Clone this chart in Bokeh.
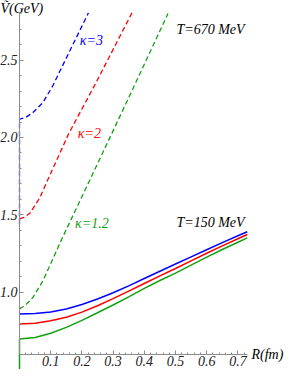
from bokeh.plotting import figure
from bokeh.models import LinearAxis, FixedTicker, NumeralTickFormatter, Range1d
from bokeh.embed import file_html
from bokeh.resources import INLINE
from bokeh.core.properties import value

# ---------------- data ----------------
# T = 150 MeV (solid)
r_solid = [0.0, 0.05, 0.1, 0.15, 0.2, 0.25, 0.3, 0.35, 0.4, 0.45, 0.5, 0.55, 0.6, 0.65, 0.7, 0.73]
v_k3_150 = [0.861, 0.864, 0.874, 0.894, 0.922, 0.958, 0.998, 1.043, 1.090, 1.137, 1.184, 1.230, 1.276, 1.322, 1.366, 1.392]
v_k2_150 = [0.797, 0.802, 0.817, 0.840, 0.873, 0.914, 0.960, 1.009, 1.058, 1.107, 1.155, 1.204, 1.253, 1.301, 1.347, 1.374]
r_k12_150 = [0.0] + r_solid
v_k12_150 = [0.50, 0.700, 0.710, 0.737, 0.775, 0.820, 0.869, 0.919, 0.972, 1.026, 1.077, 1.125, 1.177, 1.228, 1.277, 1.324, 1.352]

# T = 670 MeV (dashed)
r_k3_670 = [0.0, 0.0, 0.02, 0.043, 0.075, 0.106, 0.137, 0.168, 0.199, 0.221]
v_k3_670 = [1.44, 2.118, 2.13, 2.161, 2.225, 2.331, 2.459, 2.587, 2.714, 2.804]
r_k2_670 = [0.0, 0.015, 0.033, 0.064, 0.095, 0.126, 0.157, 0.245, 0.362]
v_k2_670 = [1.475, 1.485, 1.511, 1.607, 1.746, 1.884, 2.022, 2.353, 2.81]
r_k12_670 = [0.0, 0.02, 0.043, 0.075, 0.106, 0.137, 0.25, 0.36, 0.476]
v_k12_670 = [0.893, 0.92, 0.968, 1.075, 1.213, 1.351, 1.83, 2.30, 2.80]

x_ticks = [0.1, 0.2, 0.3, 0.4, 0.5, 0.6, 0.7]
x_minor = [round(0.02 * i, 2) for i in range(1, 37)]
y_ticks = [1.0, 1.5, 2.0, 2.5]
y_minor = [round(0.6 + 0.1 * i, 1) for i in range(0, 23)]

blue, red, green = "#0000ff", "#ff0000", "#12a012"
FONT = "Liberation Serif"
FS = "14px"

p = figure(width=284, height=369, output_backend="svg", toolbar_location=None,
           x_range=Range1d(-0.0609, 0.8494), y_range=Range1d(0.503, 2.884),
           x_axis_location=None, y_axis_location=None, min_border=0)
p.outline_line_color = None
p.grid.visible = False
p.background_fill_color = "white"


def style_axis(ax):
    ax.axis_line_color = "#8c8c8c"
    ax.axis_line_width = 1
    ax.major_tick_line_color = "#8c8c8c"
    ax.minor_tick_line_color = "#8c8c8c"
    ax.major_tick_in = 4
    ax.major_tick_out = 0
    ax.minor_tick_in = 2
    ax.minor_tick_out = 0
    ax.major_label_text_font = FONT
    ax.major_label_text_font_style = "italic"
    ax.major_label_text_font_size = FS
    ax.major_label_text_color = "#222222"
    ax.major_label_standoff = 2


xaxis = LinearAxis(fixed_location=0.6, bounds=(0, 0.73),
                   ticker=FixedTicker(ticks=x_ticks, minor_ticks=x_minor),
                   formatter=NumeralTickFormatter(format="0.0"))
style_axis(xaxis)
p.add_layout(xaxis, "below")

yaxis = LinearAxis(fixed_location=0, bounds=(0.6, 2.8),
                   ticker=FixedTicker(ticks=y_ticks, minor_ticks=y_minor),
                   formatter=NumeralTickFormatter(format="0.0"))
style_axis(yaxis)
p.add_layout(yaxis, "left")

# solid curves
p.line(r_solid, v_k3_150, line_color=blue, line_width=1.5)
p.line(r_solid, v_k2_150, line_color=red, line_width=1.5)
p.line(r_k12_150, v_k12_150, line_color=green, line_width=1.5)
# dashed curves
p.line(r_k3_670, v_k3_670, line_color=blue, line_width=1.3, line_dash="5 3")
p.line(r_k2_670, v_k2_670, line_color=red, line_width=1.3, line_dash="5 3")
p.line(r_k12_670, v_k12_670, line_color=green, line_width=1.3, line_dash="5 3")

# annotations
common = dict(text_font=value(FONT), text_font_style="italic", text_font_size=FS,
              text_align="left", text_baseline="middle")
p.text(x=[0.193], y=[2.629], text=["κ=3"], text_color=blue, **common)
p.text(x=[0.187], y=[2.029], text=["κ=2"], text_color=red, **common)
p.text(x=[0.178], y=[1.447], text=["κ=1.2"], text_color=green, **common)
p.text(x=[0.503, 0.503], y=[2.70, 1.454], text=["T=670 MeV", "T=150 MeV"], text_color="black", **common)
p.text(x=[0.7436], y=[0.6], text=["R(fm)"], text_color="black", **common)
p.text(x=[-0.0609], y=[2.882], text=["Ṽ(GeV)"], text_color="black", text_font=value(FONT),
       text_font_style="italic", text_font_size=FS, text_align="left", text_baseline="top")

open("out.html", "w").write(file_html(p, INLINE))
